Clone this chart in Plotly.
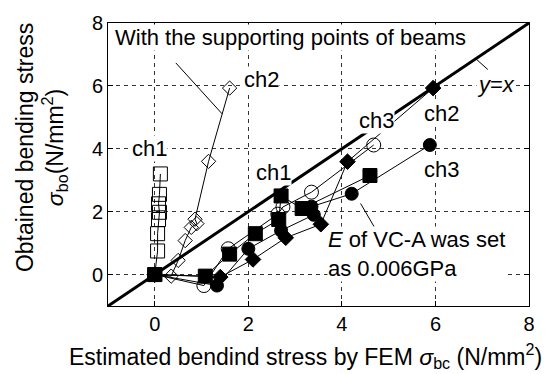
import plotly.graph_objects as go

# --- measured series -------------------------------------------------------
# With the supporting points of beams (open markers)
sup_ch1_x = [0.0, 0.06, 0.06, 0.08, 0.10, 0.08, 0.10, 0.12]
sup_ch1_y = [0.0, 0.75, 1.30, 1.75, 1.98, 2.25, 2.55, 3.20]

sup_ch2_x = [0.0, 0.35, 0.50, 0.65, 0.78, 0.90, 0.86, 1.15, 1.60]
sup_ch2_y = [0.0, -0.05, 0.45, 1.08, 1.50, 1.62, 1.76, 3.60, 5.93]

sup_ch3_x = [0.0, 1.05, 1.57, 2.63, 2.74, 3.35, 4.68]
sup_ch3_y = [0.0, -0.35, 0.82, 1.92, 2.15, 2.62, 4.12]

# E of VC-A set to 0.006 GPa (filled markers)
e_ch1_x = [0.0, 1.08, 1.60, 2.15, 2.65, 2.70, 3.15, 4.60]
e_ch1_y = [0.0, -0.05, 0.65, 1.30, 1.75, 2.50, 2.10, 3.15]

e_ch2_x = [0.0, 1.40, 2.10, 2.80, 3.55, 4.12, 5.95]
e_ch2_y = [0.0, -0.08, 0.48, 1.17, 1.60, 3.59, 5.93]

e_ch3_x = [0.0, 1.33, 2.00, 2.70, 3.40, 3.35, 4.21, 5.88]
e_ch3_y = [0.0, -0.35, 0.82, 1.40, 1.90, 2.16, 2.57, 4.12]

# reference line y = x
ref_x = [-1, 8]
ref_y = [-1, 8]

x_ticks = [0, 2, 4, 6, 8]
y_ticks = [0, 2, 4, 6, 8]

FONT = "Liberation Sans, Arial, Helvetica, sans-serif"
TXT = 22

fig = go.Figure()

fig.add_trace(go.Scatter(x=ref_x, y=ref_y, mode="lines",
                         line=dict(color="black", width=3), showlegend=False))

def series(x, y, symbol, size):
    fig.add_trace(go.Scatter(
        x=x, y=y, mode="lines+markers",
        line=dict(color="black", width=1),
        marker=dict(symbol=symbol, size=size, color="black",
                    line=dict(color="black", width=1)),
        showlegend=False))

series(sup_ch1_x, sup_ch1_y, "square-open", 14)
series(sup_ch2_x, sup_ch2_y, "diamond-open", 11)
series(sup_ch3_x, sup_ch3_y, "circle-open", 14)
series(e_ch3_x, e_ch3_y, "circle", 13)
series(e_ch2_x, e_ch2_y, "diamond", 12)
series(e_ch1_x, e_ch1_y, "square", 14)

# leader lines for the text labels
leaders = [
    ((0.45, 6.73), (1.44, 5.11)),   # supporting points -> ch2 line
    ((6.85, 6.88), (7.12, 6.52)),   # y=x label
    ((4.40, 2.26), (4.92, 0.93)),   # E of VC-A label
]
for (x0, y0), (x1, y1) in leaders:
    fig.add_shape(type="line", x0=x0, y0=y0, x1=x1, y1=y1,
                  xref="x", yref="y", line=dict(color="black", width=1))

def label(text, x, y, xanchor="center", align="center"):
    fig.add_annotation(x=x, y=y, xref="x", yref="y", text=text,
                       showarrow=False, xanchor=xanchor, yanchor="middle",
                       align=align, bgcolor="white", borderpad=0,
                       font=dict(family=FONT, size=TXT, color="black"))

label("With the supporting points of beams", -0.88, 7.55, xanchor="left")
label("ch1", -0.12, 4.0)
label("ch2", 2.28, 6.2)
label("ch1", 2.53, 3.25)
label("ch3", 4.74, 4.9)
label("ch2", 6.13, 5.12)
label("ch3", 6.13, 3.35)
label("<i>y</i>=<i>x</i>", 7.30, 6.05)
label("<i>E</i> of VC-A was set<br>as 0.006GPa", 3.68, 0.65,
      xanchor="left", align="left")

# axis titles, placed in paper coordinates
PLOT_L, PLOT_W, PLOT_B, PLOT_H = 108, 425, 306, 291
fig.add_annotation(
    x=(307 - PLOT_L) / PLOT_W, y=-(357 - PLOT_B) / PLOT_H,
    xref="paper", yref="paper",
    text="Estimated bendind stress by FEM <i>σ</i><sub>bc</sub> (N/mm<sup>2</sup>)",
    showarrow=False, xanchor="center", yanchor="middle",
    font=dict(family=FONT, size=23, color="black"))
fig.add_annotation(
    x=-(PLOT_L - 41) / PLOT_W, y=(PLOT_B - 143) / PLOT_H,
    xref="paper", yref="paper",
    text="Obtained bending stress<br><i>σ</i><sub>bo</sub>(N/mm<sup>2</sup>)",
    showarrow=False, textangle=-90, xanchor="center", yanchor="middle",
    font=dict(family=FONT, size=23, color="black"))

axis_common = dict(
    showline=True, linecolor="black", linewidth=1, mirror="ticks",
    ticks="inside", ticklen=5, tickcolor="black",
    showgrid=True, gridcolor="#333333", gridwidth=1, griddash="4px,4px",
    zeroline=False, tickfont=dict(family=FONT, size=20, color="black"),
)

fig.update_xaxes(range=[-1, 8], tickvals=x_ticks, **axis_common)
fig.update_yaxes(range=[-1, 8], tickvals=y_ticks, **axis_common)

fig.update_layout(
    width=547, height=374,
    margin=dict(l=PLOT_L, r=14, t=15, b=68),
    plot_bgcolor="white", paper_bgcolor="white",
    showlegend=False,
)

fig.write_html("out.html")
